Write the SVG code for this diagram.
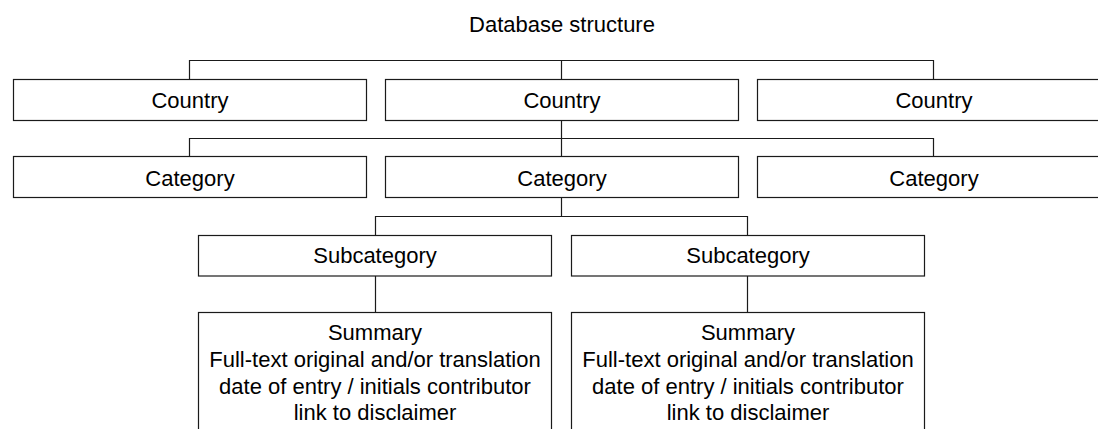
<svg xmlns="http://www.w3.org/2000/svg" width="1098" height="429" viewBox="0 0 1098 429">
  <style>
    .box { fill: #ffffff; stroke: #1a1a1a; stroke-width: 1.2; }
    .lbl { font-family: "Liberation Sans", Arial, sans-serif; font-size: 22px; fill: #000000; text-anchor: middle; }
    .wire { fill: none; stroke: #1a1a1a; stroke-width: 1.2; }
  </style>
  <rect width="1098" height="429" fill="#ffffff"/>

  <text class="lbl" x="562" y="31.5">Database structure</text>

  <!-- tree connectors -->
  <g id="connectors">
    <path class="wire" d="M189.5 79.5 V60.5 H933.5 V79.5 M561.5 60.5 V79.5"/>
    <path class="wire" d="M561.5 120.5 V156.5 M189.5 156.5 V138.5 H933.5 V156.5"/>
    <path class="wire" d="M561.5 197.5 V216.5 M375.5 235.5 V216.5 H747.5 V235.5"/>
    <path class="wire" d="M375.5 275.5 V312.5 M747.5 275.5 V312.5"/>
  </g>

  <!-- level 1: countries -->
  <g id="country-1">
    <rect class="box" x="13.5" y="79.5" width="353" height="41"/>
    <text class="lbl" x="190" y="107.5">Country</text>
  </g>
  <g id="country-2">
    <rect class="box" x="385.5" y="79.5" width="353" height="41"/>
    <text class="lbl" x="562" y="107.5">Country</text>
  </g>
  <g id="country-3">
    <rect class="box" x="757.5" y="79.5" width="353" height="41"/>
    <text class="lbl" x="934" y="107.5">Country</text>
  </g>

  <!-- level 2: categories -->
  <g id="category-1">
    <rect class="box" x="13.5" y="156.5" width="353" height="41"/>
    <text class="lbl" x="190" y="185.5">Category</text>
  </g>
  <g id="category-2">
    <rect class="box" x="385.5" y="156.5" width="353" height="41"/>
    <text class="lbl" x="562" y="185.5">Category</text>
  </g>
  <g id="category-3">
    <rect class="box" x="757.5" y="156.5" width="353" height="41"/>
    <text class="lbl" x="934" y="185.5">Category</text>
  </g>

  <!-- level 3: subcategories -->
  <g id="subcategory-1">
    <rect class="box" x="198.5" y="235.5" width="353" height="40.5"/>
    <text class="lbl" x="375" y="262.5">Subcategory</text>
  </g>
  <g id="subcategory-2">
    <rect class="box" x="571.5" y="235.5" width="353" height="40.5"/>
    <text class="lbl" x="748" y="262.5">Subcategory</text>
  </g>

  <!-- level 4: entry records -->
  <g id="entry-1">
    <rect class="box" x="198.5" y="312.5" width="353" height="140"/>
    <text class="lbl" x="375" y="339.5">Summary</text>
    <text class="lbl" x="375" y="366.5">Full-text original and/or translation</text>
    <text class="lbl" x="375" y="393.5">date of entry / initials contributor</text>
    <text class="lbl" x="375" y="420">link to disclaimer</text>
  </g>
  <g id="entry-2">
    <rect class="box" x="571.5" y="312.5" width="353" height="140"/>
    <text class="lbl" x="748" y="339.5">Summary</text>
    <text class="lbl" x="748" y="366.5">Full-text original and/or translation</text>
    <text class="lbl" x="748" y="393.5">date of entry / initials contributor</text>
    <text class="lbl" x="748" y="420">link to disclaimer</text>
  </g>
</svg>
